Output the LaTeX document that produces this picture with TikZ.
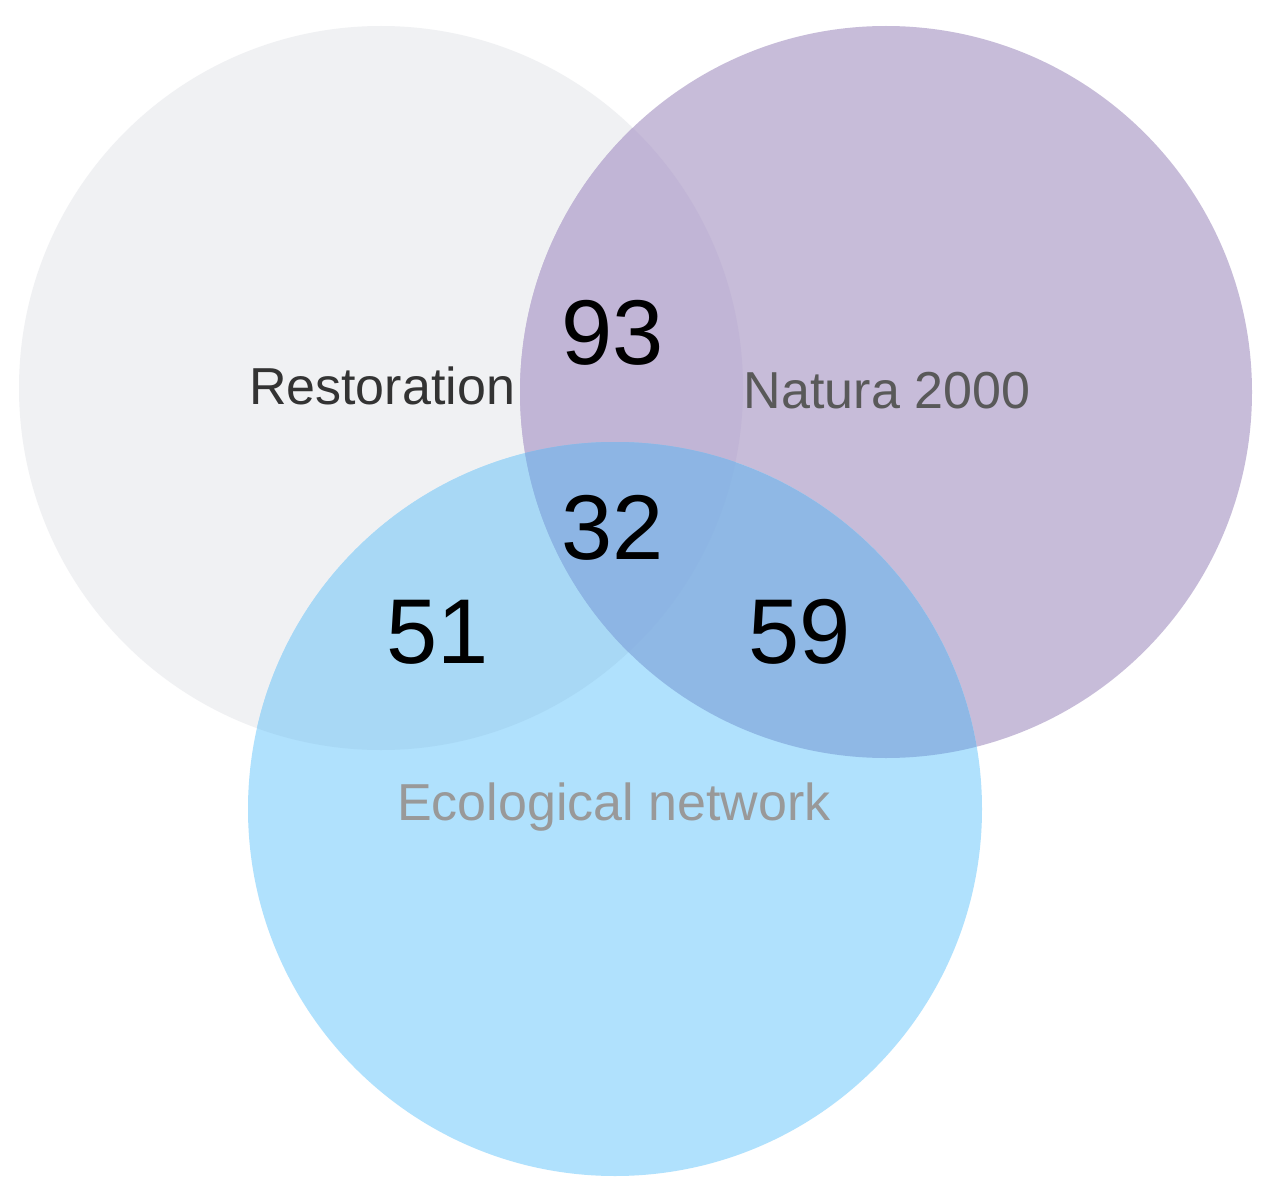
\documentclass[tikz,border=0pt]{standalone}
\usepackage{fontspec}
\setmainfont{Liberation Sans}
\definecolor{cgrey}{HTML}{F0F1F3}
\definecolor{cpurple}{HTML}{C7BCD9}
\definecolor{cgp}{HTML}{C1B5D6}
\definecolor{cblue}{HTML}{B0E1FD}
\definecolor{cgb}{HTML}{A8D8F5}
\definecolor{cpb}{HTML}{8FB8E5}
\definecolor{cgpb}{HTML}{8DB5E4}
\begin{document}
\begin{tikzpicture}[x=0.5pt,y=-0.5pt,
  setlabel/.style={font=\fontsize{26}{30}\selectfont, inner sep=0pt},
  countlabel/.style={font=\fontsize{46}{52}\selectfont, inner sep=0pt, text=black}]
\useasboundingbox (0,0) rectangle (1270,1204);
\fill[white] (0,0) rectangle (1270,1204);
\def\circA{(381,388) circle[radius=181pt]}
\def\circB{(886,392) circle[radius=183pt]}
\def\circC{(615,809) circle[radius=183.5pt]}
\fill[cgrey] \circA;
\fill[cpurple] \circB;
\fill[cblue] \circC;
\begin{scope}
  \clip \circA;
  \fill[cgp] \circB;
  \fill[cgb] \circC;
\end{scope}
\begin{scope}
  \clip \circB;
  \fill[cpb] \circC;
  \clip \circC;
  \fill[cgpb] \circA;
\end{scope}
\node[setlabel, text=black!80] (restoration) at (382,386) {Restoration};
\node[setlabel, text=black!65] (natura) at (887,391) {Natura 2000};
\node[setlabel, text=black!40] (eco) at (614,807) {Ecological network};
\node[countlabel] (n93) at (613,333) {93};
\node[countlabel] (n32) at (613,528) {32};
\node[countlabel] (n51) at (438,632) {51};
\node[countlabel] (n59) at (800,632) {59};
\end{tikzpicture}
\end{document}
